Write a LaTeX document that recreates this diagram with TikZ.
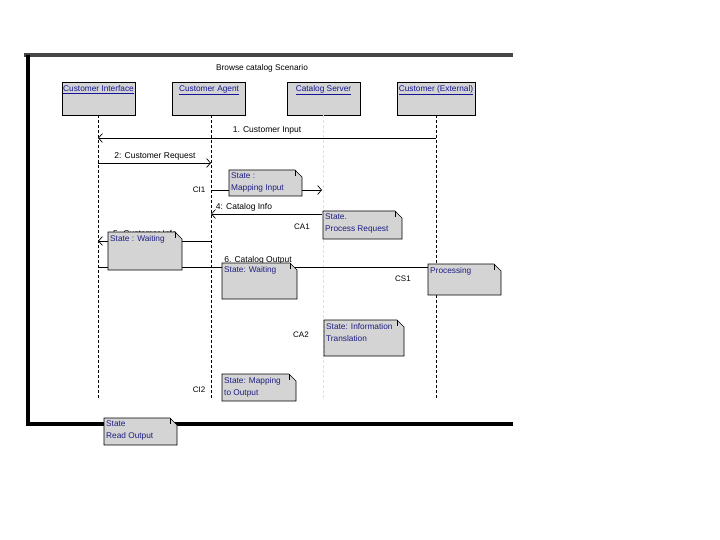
\documentclass[tikz,border=0pt]{standalone}
\usepackage{fontspec}
\setmainfont{Liberation Sans}
\usetikzlibrary{arrows.meta}
\definecolor{boxgray}{RGB}{212,212,212}
\definecolor{hdrblue}{RGB}{20,20,150}
\definecolor{noteblue}{RGB}{30,30,130}
\definecolor{framegray}{RGB}{70,70,70}
\newcommand\stnote[6]{%
  \filldraw[fill=boxgray,draw=black,line width=0.6pt] (#2,#3) -- (#4-7,#3) -- (#4,#3+7) -- (#4,#5) -- (#2,#5) -- cycle;
  \draw[line width=0.6pt] (#4-7,#3) -- (#4-7,#3+6);
  \node[notetxt] (#1) at (#2,#3) {#6};}
\begin{document}
\begin{tikzpicture}[x=1pt,y=-1pt,
  every node/.style={font=\fontsize{8}{10}\selectfont},
  hdr/.style={draw=black,fill=boxgray,line width=0.6pt,minimum width=73pt,minimum height=33pt,inner sep=0pt},
  hdrtxt/.style={anchor=north,text=hdrblue,inner sep=3.5pt,font=\fontsize{8.3}{10}\selectfont},
  notetxt/.style={anchor=north west,align=left,text=noteblue,inner xsep=2pt,inner ysep=3pt,font=\fontsize{8.3}{12}\selectfont},
  life/.style={dashed,dash pattern=on 3pt off 2pt,line width=0.6pt},
  msg/.style={line width=0.7pt},
  arr/.style={msg,-{Straight Barb[length=4pt,width=9pt,line width=0.7pt]}},
  lbl/.style={inner sep=1pt,font=\fontsize{8.5}{10}\selectfont}]
\useasboundingbox (0,0) rectangle (720,540);
% frame
\draw[framegray,line width=4pt] (24,55) -- (513,55);
\draw[black,line width=3.5pt] (28,55) -- (28,425.5);
\draw[black,line width=4pt] (26.5,424) -- (513,424);
% title
\node[font=\fontsize{8.3}{10}\selectfont] (title) at (262,68) {Browse catalog Scenario};
% headers
\node[hdr] (ci) at (98.5,98.5) {};
\node[hdrtxt] (cit) at (ci.north) {\underline{Customer Interface}};
\node[hdr] (ca) at (209,98.5) {};
\node[hdrtxt] (cat) at (ca.north) {\underline{Customer Agent}};
\node[hdr] (cs) at (323.5,98.5) {};
\node[hdrtxt] (cst) at (cs.north) {\underline{Catalog Server}};
\node[hdr,minimum width=78pt] (ce) at (436,98.5) {};
\node[hdrtxt] (cet) at (ce.north) {\underline{Customer (External)}};
% lifeline coordinates
\coordinate (ciE) at (98,398);
\coordinate (caE) at (211,398);
\coordinate (csE) at (323,398);
\coordinate (ceE) at (436,398);
\draw[life] (98,115) -- (ciE);
\draw[life] (211,115) -- (caE);
\draw[life,black!12] (323,115) -- (csE);
\draw[life] (436,115) -- (ceE);
% message points
\coordinate (m1a) at (436,138); \coordinate (m1b) at (98,138);
\coordinate (m2a) at (98,163);  \coordinate (m2b) at (211,163);
\coordinate (m3a) at (211,190); \coordinate (m3b) at (322,190);
\coordinate (m4a) at (322,214); \coordinate (m4b) at (211,214);
\coordinate (m5a) at (211,241); \coordinate (m5b) at (98,241);
\coordinate (m6a) at (98,267);  \coordinate (m6b) at (428,267);
% messages
\draw[arr] (m1a) -- (m1b);
\node[lbl] (l1) at (267,130) {1. Customer Input};
\draw[arr] (m2a) -- (m2b);
\node[lbl] (l2) at (155,156.5) {2: Customer Request};
\draw[arr] (m3a) -- (m3b);
\draw[arr] (m4a) -- (m4b);
\node[lbl] (l4) at (244,207.5) {4: Catalog Info};
\draw[arr] (m5a) -- (m5b);
\node[lbl,anchor=west] (l5) at (112,233) {5. Customer Info};
\draw[msg] (m6a) -- (m6b);
\node[lbl] (l6) at (258,260.5) {6. Catalog Output};
% side labels
\node (ci1) at (199,190) {CI1};
\node (ca1) at (302,227) {CA1};
\node (cs1) at (403,279) {CS1};
\node (ca2) at (301,335) {CA2};
\node (ci2) at (199,390) {CI2};
% notes
\stnote{n1}{229}{170}{302}{196}{State :\\Mapping Input}
\stnote{n2}{323}{211}{402}{239}{State.\\Process Request}
\stnote{n3}{108}{232}{182}{270}{State : Waiting}
\stnote{n4}{222}{263}{297}{299}{State: Waiting}
\stnote{n5}{428}{264}{501}{295}{Processing}
\stnote{n6}{324}{320}{404}{356}{State: Information\\Translation}
\stnote{n7}{222}{374}{296}{401}{State: Mapping\\to Output}
\stnote{n8}{104}{418}{177}{445}{State\\Read Output}
\end{tikzpicture}
\end{document}
